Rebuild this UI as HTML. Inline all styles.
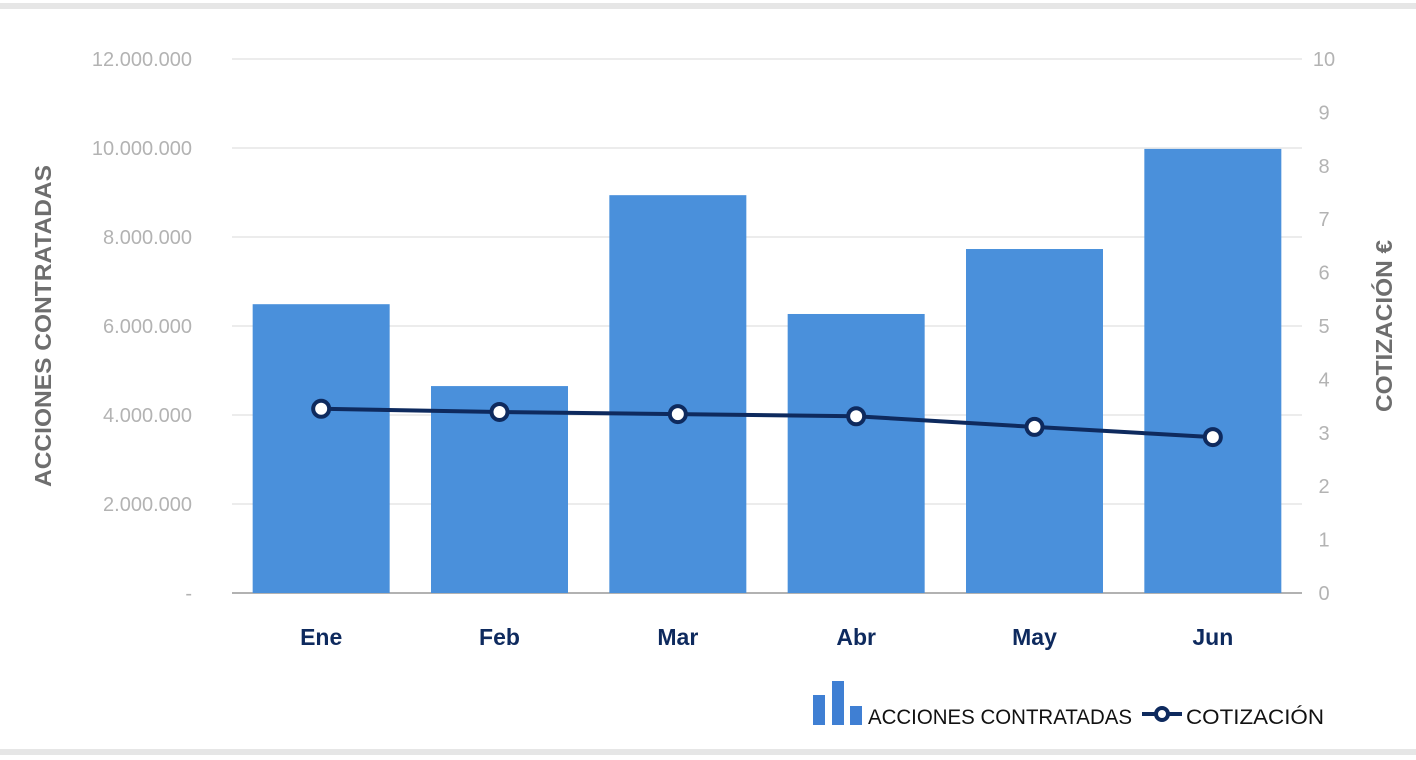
<!DOCTYPE html>
<html><head><meta charset="utf-8"><style>
html,body{margin:0;padding:0;background:#fff;}
svg{display:block;font-family:"Liberation Sans",sans-serif;}
</style></head><body>
<svg id="chart" width="1416" height="760" viewBox="0 0 1416 760" xmlns="http://www.w3.org/2000/svg">
<rect x="0" y="3" width="1416" height="6" fill="#e6e6e6"/>
<rect x="0" y="749" width="1416" height="6" fill="#e6e6e6"/>
<g id="grid"></g>
<g id="bars"></g>
<g id="line"></g>
<g id="labels"></g>
<text transform="translate(51,326) rotate(-90)" text-anchor="middle" font-size="23" font-weight="bold" fill="#6e6e6e" textLength="322" lengthAdjust="spacingAndGlyphs">ACCIONES CONTRATADAS</text>
<text transform="translate(1392,326) rotate(-90)" text-anchor="middle" font-size="23" font-weight="bold" fill="#6e6e6e" textLength="172" lengthAdjust="spacingAndGlyphs">COTIZACIÓN €</text>
<g>
<g>
<rect x="813" y="695" width="12" height="30" fill="#3f7fd3"/>
<rect x="832" y="681" width="12" height="44" fill="#3f7fd3"/>
<rect x="850" y="706" width="12" height="19" fill="#3f7fd3"/>
<text x="868" y="724" font-size="21" fill="#111" textLength="264" lengthAdjust="spacingAndGlyphs">ACCIONES CONTRATADAS</text>
</g>
<g>
<line x1="1142" y1="714" x2="1182" y2="714" stroke="#0e2a5e" stroke-width="4"/>
<circle cx="1162" cy="714" r="6" fill="#fff" stroke="#0e2a5e" stroke-width="4"/>
<text x="1186" y="724" font-size="21" fill="#111" textLength="138" lengthAdjust="spacingAndGlyphs">COTIZACIÓN</text>
</g>
</g>
</svg>
<script>
const categories=["Ene","Feb","Mar","Abr","May","Jun"];
const acciones=[6490000,4650000,8940000,6270000,7730000,9980000];
const cotizacion=[3.45,3.39,3.35,3.31,3.11,2.92];
const leftTicks=[0,2000000,4000000,6000000,8000000,10000000,12000000];
const leftTickLabels=["-","2.000.000","4.000.000","6.000.000","8.000.000","10.000.000","12.000.000"];
const rightTicks=[0,1,2,3,4,5,6,7,8,9,10];

const NS="http://www.w3.org/2000/svg";
const x0=232,x1=1302,yBase=593,yTop=59;
const yL=v=>yBase-(v/12000000)*(yBase-yTop);
const yR=v=>yBase-(v/10)*(yBase-yTop);
const band=(x1-x0)/categories.length;
const xC=i=>x0+band*(i+0.5);
function mk(tag,attrs,parent){const e=document.createElementNS(NS,tag);for(const k in attrs)e.setAttribute(k,attrs[k]);parent.appendChild(e);return e;}
const grid=document.getElementById('grid'),bars=document.getElementById('bars'),line=document.getElementById('line'),labels=document.getElementById('labels');
leftTicks.forEach((t,i)=>{
  const y=yL(t);
  if(t>0){const g=mk('line',{x1:x0,x2:x1,y1:y,y2:y,stroke:'#e6e6e6','stroke-width':1.5},grid);
  
  }
  const tx=mk('text',{x:192,y:y+7,'text-anchor':'end','font-size':20,fill:'#b3b3b3'},labels);
  tx.textContent=leftTickLabels[i];
  
  
});
rightTicks.forEach(t=>{
  const tx=mk('text',{x:1324,y:yR(t)+7,'text-anchor':'middle','font-size':20,fill:'#b3b3b3'},labels);
  tx.textContent=String(t);
  
  
});
const bw=137;
acciones.forEach((v,i)=>{
  const r=mk('rect',{x:xC(i)-bw/2,y:yL(v),width:bw,height:yBase-yL(v),fill:'#4a90db'},bars);
  
  
  const tx=mk('text',{x:xC(i),y:645,'text-anchor':'middle','font-size':23,'font-weight':'bold',fill:'#0e2a5e'},labels);
  tx.textContent=categories[i];
  
  
});
const ax=mk('line',{x1:x0,x2:x1,y1:yBase,y2:yBase,stroke:'#999','stroke-width':1.5},grid);


const p=mk('polyline',{points:cotizacion.map((v,i)=>xC(i)+','+yR(v)).join(' '),fill:'none',stroke:'#0e2a5e','stroke-width':4},line);


cotizacion.forEach((v,i)=>{
  const c=mk('circle',{cx:xC(i),cy:yR(v),r:8,fill:'#fff',stroke:'#0e2a5e','stroke-width':4},line);
  
  
});
</script>
</body></html>
